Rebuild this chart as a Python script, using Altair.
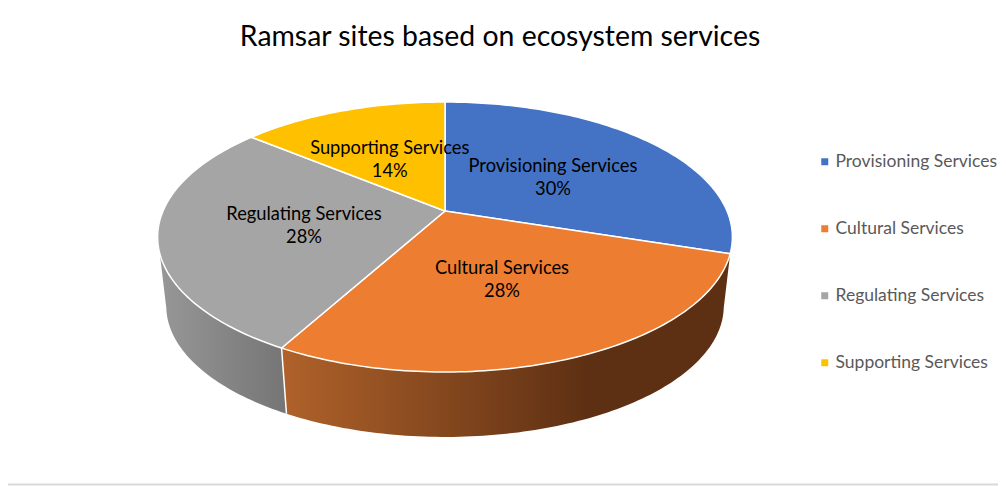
import math
import altair as alt
import pandas as pd

categories = ["Provisioning Services", "Cultural Services", "Regulating Services", "Supporting Services"]
shares = [30, 28, 28, 14]
colors = ["#4472C4", "#ED7D31", "#A5A5A5", "#FFC000"]
title_text = "Ramsar sites based on ecosystem services"


def top(deg, f=1.0):
    """Pie-top perspective: turn a clockwise angle from 12 o'clock into picture units."""
    a = math.radians(deg)
    u, v = -math.cos(a) * f, math.sin(a) * f
    den = 1 - 0.1926 * u
    return 445.0 + 282 * v / den, (89.35 * u + 211) / den


def bottom(deg):
    x, y = top(deg)
    return 445.5 + 0.97 * (x - 445.5), 306 + 0.97 * (y - 237)


def sweep(a, b, fn):
    n = max(2, int(abs(b - a)) + 1)
    return [fn(a + (b - a) * i / (n - 1)) for i in range(n)]


cum = [0]
for s in shares:
    cum.append(cum[-1] + s * 3.6)

faces = {}
for name, a, b in zip(categories, cum[:-1], cum[1:]):
    pts = [top(0, 0)] + sweep(a, b, top)
    pts.append(pts[0])
    faces[name] = pts

wall_orange = sweep(cum[1], cum[2], top) + sweep(cum[2], 102, bottom)
wall_grey = sweep(cum[2], 252, top) + sweep(258, cum[2], bottom)
divider = [top(cum[2]), bottom(cum[2])]


def frame(pts):
    return pd.DataFrame({"x": [p[0] for p in pts], "y": [p[1] for p in pts], "i": range(len(pts))})


X = alt.X("x:Q", scale=alt.Scale(domain=[8, 998]), axis=None)
Y = alt.Y("y:Q", scale=alt.Scale(domain=[486, 8]), axis=None)
enc = dict(x=X, y=Y, order=alt.Order("i:Q"))


def gradient(stops):
    return alt.LinearGradient(
        gradient="linear", x1=0, x2=1, y1=0, y2=0,
        stops=[alt.GradientStop(offset=o, color=c) for o, c in stops],
    )


layers = [
    alt.Chart(frame(wall_grey)).mark_line(
        fill=gradient([(0, "#979797"), (1, "#757575")]), strokeWidth=0, interpolate="linear"
    ).encode(**enc),
    alt.Chart(frame(wall_orange)).mark_line(
        fill=gradient([(0, "#B0622A"), (0.68, "#5E3013"), (1, "#5E3013")]), strokeWidth=0
    ).encode(**enc),
    alt.Chart(frame(divider)).mark_line(color="white", strokeWidth=1.5).encode(**enc),
]
for name, col in zip(categories, colors):
    layers.append(
        alt.Chart(frame(faces[name])).mark_line(fill=col, color="white", strokeWidth=1.5, strokeJoin="round").encode(**enc)
    )

labels = []
for name, s, a, b in zip(categories, shares, cum[:-1], cum[1:]):
    lx, ly = top((a + b) / 2, 0.5)
    labels.append({"x": lx, "y": ly, "t": f"{name}\n{s}%"})
layers.append(
    alt.Chart(pd.DataFrame(labels)).mark_text(
        font="Lato", fontSize=18.3, color="#000000", lineBreak="\n", lineHeight=23, baseline="middle", dy=-8
    ).encode(x=X, y=Y, text="t:N")
)

layers.append(
    alt.Chart(pd.DataFrame({"c": categories})).mark_square(size=0).encode(
        color=alt.Color(
            "c:N",
            sort=None,
            scale=alt.Scale(domain=categories, range=colors),
            legend=alt.Legend(
                title=None, orient="none", legendX=808, legendY=145, rowPadding=48,
                symbolType="square", symbolSize=49, symbolOpacity=1,
                labelFont="Lato", labelFontSize=17.5, labelColor="#595959",
                labelOffset=2, labelLimit=220,
            ),
        )
    )
)

layers.append(alt.Chart(pd.DataFrame({"y": [484.5]})).mark_rule(color="#D9D9D9", strokeWidth=2).encode(y=Y))

layers.append(
    alt.Chart(pd.DataFrame({"x": [500], "y": [37], "t": [title_text]})).mark_text(
        font="Lato", fontSize=28.4, color="#000000", baseline="middle"
    ).encode(x=X, y=Y, text="t:N")
)

chart = (
    alt.layer(*layers)
    .resolve_scale(color="independent")
    .properties(width=990, height=478, padding=0, autosize=alt.AutoSizeParams(type="none"), background="white")
    .configure_view(stroke=None)
)
chart.save("out.html", embed_options={"renderer": "svg", "actions": False})
